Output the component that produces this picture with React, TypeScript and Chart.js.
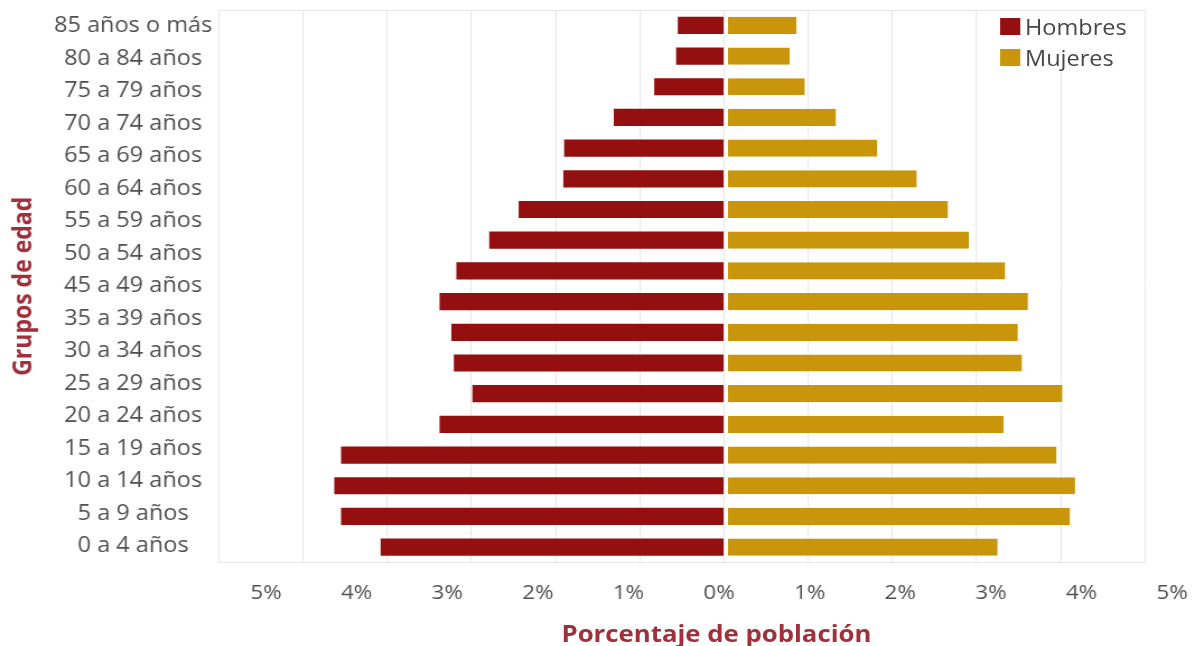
import React, { useEffect, useRef } from 'react';
import { Chart, registerables } from 'chart.js';

Chart.register(...registerables);

// ---- data ----
const ageGroups = [
  '85 años o más', '80 a 84 años', '75 a 79 años', '70 a 74 años', '65 a 69 años',
  '60 a 64 años', '55 a 59 años', '50 a 54 años', '45 a 49 años', '40 a 44 años',
  '35 a 39 años', '30 a 34 años', '25 a 29 años', '20 a 24 años', '15 a 19 años',
  '10 a 14 años', '5 a 9 años', '0 a 4 años',
];
// labels as printed on the axis (the original omits "40 a 44 años")
const ageTickLabels = [
  '85 años o más', '80 a 84 años', '75 a 79 años', '70 a 74 años', '65 a 69 años',
  '60 a 64 años', '55 a 59 años', '50 a 54 años', '45 a 49 años',
  '35 a 39 años', '30 a 34 años', '25 a 29 años', '20 a 24 años', '15 a 19 años',
  '10 a 14 años', '5 a 9 años', '0 a 4 años',
];
const hombres = [0.55, 0.57, 0.83, 1.31, 1.90, 1.91, 2.44, 2.79, 3.18, 3.38, 3.24, 3.21, 2.99, 3.38, 4.55, 4.63, 4.55, 4.08];
const mujeres = [0.86, 0.78, 0.96, 1.33, 1.82, 2.29, 2.66, 2.91, 3.34, 3.61, 3.49, 3.54, 4.02, 3.32, 3.95, 4.17, 4.11, 3.25];
const seriesNames = ['Hombres', 'Mujeres'];
const xTickValues = [-5, -4, -3, -2, -1, 0, 1, 2, 3, 4, 5];
const xTickLabels = ['5%', '4%', '3%', '2%', '1%', '0%', '1%', '2%', '3%', '4%', '5%'];
const xTitle = 'Porcentaje de población';
const yTitle = 'Grupos de edad';

// ---- styles ----
const STRETCH = 1.12;
const W = Math.round(1195 / STRETCH);
const H = 646;
const COLORS = ['#930f10', '#c8950b'];
const GRID = '#e6e6e6';
const TEXT = '#505050';
const TITLE = '#a0303a';
const FONT = "'Open Sans', sans-serif";

const zeroPad = (s: any) => {
  s.paddingLeft = 0;
  s.paddingRight = 0;
  s.paddingTop = 0;
  s.paddingBottom = 0;
};

export default function App() {
  const ref = useRef<HTMLCanvasElement | null>(null);

  useEffect(() => {
    if (!ref.current) return;
    Chart.defaults.font.family = FONT;
    const chart = new Chart(ref.current, {
      type: 'bar',
      data: {
        labels: ageGroups,
        datasets: [
          {
            label: seriesNames[0],
            data: hombres.map((v) => -v),
            backgroundColor: COLORS[0],
            borderWidth: 0,
            barPercentage: 0.56,
            categoryPercentage: 1,
          },
          {
            label: seriesNames[1],
            data: mujeres,
            backgroundColor: COLORS[1],
            borderColor: '#ffffff',
            borderWidth: { left: 3, right: 0, top: 0, bottom: 0 } as any,
            borderSkipped: false,
            barPercentage: 0.56,
            categoryPercentage: 1,
          },
        ],
      },
      options: {
        indexAxis: 'y',
        responsive: false,
        maintainAspectRatio: false,
        animation: false,
        devicePixelRatio: 1,
        layout: { padding: { left: 0, top: 10, right: 44.7, bottom: 0 } },
        plugins: {
          legend: { display: false },
          tooltip: { enabled: false },
        },
        scales: {
          x: {
            type: 'linear',
            position: 'bottom',
            stacked: true,
            min: -6,
            max: 5,
            weight: 0,
            ticks: { display: false, stepSize: 1 },
            grid: { color: GRID, drawTicks: false, lineWidth: 1 },
            border: { display: false },
            afterFit: (s: any) => { s.height = 0; zeroPad(s); },
          },
          x2: {
            type: 'linear',
            position: 'bottom',
            weight: 10,
            min: -5.519,
            max: 4.70,
            afterBuildTicks: (s: any) => { s.ticks = xTickValues.map((v) => ({ value: v })); },
            ticks: {
              autoSkip: false,
              maxRotation: 0,
              padding: 11,
              color: TEXT,
              font: { family: FONT, size: 20 },
              callback: (_v: any, i: number) => xTickLabels[i],
            },
            grid: { display: false },
            border: { display: true, color: GRID },
            afterFit: (s: any) => { s.height = 83.5; zeroPad(s); },
          },
          xTop: {
            type: 'linear',
            position: 'top',
            min: -6,
            max: 5,
            ticks: { display: false },
            grid: { display: true, drawOnChartArea: false, drawTicks: false },
            border: { display: true, color: GRID },
            afterFit: (s: any) => { s.height = 0; zeroPad(s); },
          },
          y: {
            type: 'category',
            stacked: true,
            offset: true,
            weight: 0,
            ticks: { display: false },
            grid: { display: false },
            border: { display: false },
            afterFit: (s: any) => { s.width = 0; zeroPad(s); },
          },
          y2: {
            type: 'category',
            position: 'left',
            labels: ageTickLabels,
            offset: true,
            weight: 10,
            ticks: {
              padding: -2,
              crossAlign: 'center',
              autoSkip: false,
              color: TEXT,
              font: { family: FONT, size: 21 },
            },
            grid: { display: false },
            border: { display: false },
            title: {
              display: true,
              text: yTitle,
              color: TITLE,
              font: { family: FONT, size: 23, weight: 'bold' },
              padding: { top: 7.6, bottom: 0 },
            },
            afterFit: (s: any) => { s.width = 195.5; zeroPad(s); },
          },
        },
      } as any,
    });
    return () => chart.destroy();
  }, []);

  return (
    <div
      style={{
        position: 'fixed',
        left: 0,
        top: 0,
        width: W,
        height: H,
        transform: `scaleX(${STRETCH})`,
        transformOrigin: '0 0',
        background: '#ffffff',
      }}
    >
      <canvas ref={ref} width={W} height={H} style={{ width: W, height: H, display: 'block' }} />
      <div
        style={{
          position: 'absolute',
          left: 880,
          top: 11,
          width: 138,
          height: 60,
          background: '#ffffff',
          fontFamily: FONT,
          fontSize: 21,
          color: '#474747',
        }}
      >
        {seriesNames.map((name, i) => (
          <React.Fragment key={name}>
            <div
              style={{
                position: 'absolute',
                left: 12.9,
                top: 7 + i * 30.5,
                width: 17.9,
                height: 17,
                background: COLORS[i],
              }}
            />
            <div
              style={{
                position: 'absolute',
                left: 35.2,
                top: 4 + i * 31,
                lineHeight: '24px',
                whiteSpace: 'nowrap',
              }}
            >
              {name}
            </div>
          </React.Fragment>
        ))}
      </div>
      <div
        style={{
          position: 'absolute',
          left: 439.7,
          top: 619,
          width: 400,
          textAlign: 'center',
          fontFamily: FONT,
          fontWeight: 700,
          fontSize: 23,
          lineHeight: '28px',
          color: TITLE,
          whiteSpace: 'nowrap',
        }}
      >
        {xTitle}
      </div>
    </div>
  );
}
